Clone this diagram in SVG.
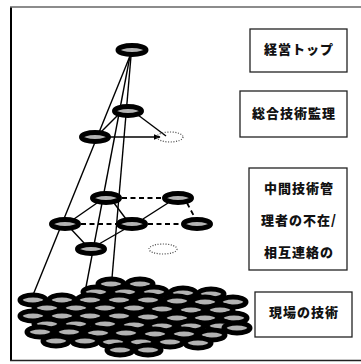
<svg xmlns="http://www.w3.org/2000/svg" width="361" height="364" viewBox="0 0 361 364">
<defs>
<style>
.box{fill:#fff;stroke:#222;stroke-width:1.3}
.lbl{font-family:"Noto Sans CJK JP","Noto Sans CJK SC",sans-serif;font-weight:900;font-size:13px;letter-spacing:1px;fill:#111;text-anchor:middle}
.nd{fill:#b3b3b3;stroke:#000;stroke-width:5}
.fl{fill:#b3b3b3;stroke:#000;stroke-width:5}
.dot{fill:none;stroke:#444;stroke-width:1.2;stroke-dasharray:1 1.6}
.ln{stroke:#000;stroke-width:1.4;fill:none}
.ds{stroke:#000;stroke-width:1.8;fill:none;stroke-dasharray:5 3.5}
</style>
<marker id="ah" viewBox="0 0 10 10" refX="9" refY="5" markerWidth="7" markerHeight="7" orient="auto" markerUnits="userSpaceOnUse">
<path d="M0,1 L10,5 L0,9 z" fill="#000"/>
</marker>
</defs>
<rect width="361" height="364" fill="#fff"/>
<g id="frame">
<line x1="11" y1="7" x2="11" y2="361" stroke="#000" stroke-width="2"/>
<line x1="10" y1="7" x2="361" y2="7" stroke="#666" stroke-width="1.4"/>
<line x1="10" y1="360.5" x2="361" y2="360.5" stroke="#222" stroke-width="1.5"/>
</g>
<g id="connectors">
<line class="ln" x1="130" y1="56" x2="31" y2="300"/>
<line class="ln" x1="130" y1="56" x2="86" y2="287"/>
<line class="ln" x1="131" y1="56" x2="112" y2="278"/>
<line class="ln" x1="138" y1="115" x2="166" y2="136"/>
<line class="ln" x1="118" y1="115" x2="100" y2="133"/>
<line class="ln" x1="110" y1="137" x2="160" y2="137" marker-end="url(#ah)"/>
<line class="ds" x1="122" y1="198" x2="162" y2="198"/>
<line class="ds" x1="81" y1="224" x2="116" y2="224"/>
<line class="ds" x1="148" y1="224" x2="181" y2="224"/>
<line class="ds" x1="187" y1="203" x2="195" y2="218"/>
<line class="ln" x1="97" y1="203" x2="74" y2="219"/>
<line class="ln" x1="114" y1="203" x2="126" y2="219"/>
<line class="ln" x1="168" y1="203" x2="143" y2="219"/>
<line class="ln" x1="71" y1="229" x2="85" y2="244"/>
<line class="ln" x1="125" y1="229" x2="99" y2="244"/>
</g>
<g id="node-top"><ellipse class="nd" cx="132" cy="50" rx="14" ry="4.5"/></g>
<g id="node-n2"><ellipse class="nd" cx="128" cy="111" rx="13.5" ry="4.5"/></g>
<g id="node-n3"><ellipse class="nd" cx="95" cy="137" rx="13.5" ry="4.5"/></g>
<g id="node-d1"><ellipse class="dot" cx="170" cy="137" rx="13" ry="5"/></g>
<g id="node-a"><ellipse class="nd" cx="106" cy="198" rx="13.5" ry="4.5"/></g>
<g id="node-b"><ellipse class="nd" cx="178" cy="198" rx="13.5" ry="4.5"/></g>
<g id="node-c"><ellipse class="nd" cx="65" cy="224" rx="13.5" ry="4.5"/></g>
<g id="node-d"><ellipse class="nd" cx="132" cy="224" rx="13.5" ry="4.5"/></g>
<g id="node-e"><ellipse class="nd" cx="197" cy="224" rx="13.5" ry="4.5"/></g>
<g id="node-f"><ellipse class="nd" cx="91" cy="249" rx="13.5" ry="4.5"/></g>
<g id="node-d2"><ellipse class="dot" cx="163" cy="249" rx="14" ry="5"/></g>
<g id="node-floor">
<ellipse class="fl" cx="111" cy="284" rx="13" ry="5"/>
<ellipse class="fl" cx="140" cy="284" rx="13" ry="5"/>
<ellipse class="fl" cx="96" cy="292" rx="13" ry="5"/>
<ellipse class="fl" cx="125" cy="292" rx="13" ry="5"/>
<ellipse class="fl" cx="154" cy="292" rx="13" ry="5"/>
<ellipse class="fl" cx="183" cy="293" rx="13" ry="5"/>
<ellipse class="fl" cx="211" cy="294" rx="13" ry="5"/>
<ellipse class="fl" cx="33" cy="300" rx="13" ry="5"/>
<ellipse class="fl" cx="62" cy="300" rx="13" ry="5"/>
<ellipse class="fl" cx="90" cy="300" rx="13" ry="5"/>
<ellipse class="fl" cx="119" cy="300" rx="13" ry="5"/>
<ellipse class="fl" cx="148" cy="300" rx="13" ry="5"/>
<ellipse class="fl" cx="177" cy="301" rx="13" ry="5"/>
<ellipse class="fl" cx="205" cy="302" rx="13" ry="5"/>
<ellipse class="fl" cx="233" cy="302" rx="13" ry="5"/>
<ellipse class="fl" cx="47" cy="308" rx="13" ry="5"/>
<ellipse class="fl" cx="76" cy="308" rx="13" ry="5"/>
<ellipse class="fl" cx="105" cy="308" rx="13" ry="5"/>
<ellipse class="fl" cx="134" cy="308" rx="13" ry="5"/>
<ellipse class="fl" cx="162" cy="309" rx="13" ry="5"/>
<ellipse class="fl" cx="191" cy="310" rx="13" ry="5"/>
<ellipse class="fl" cx="220" cy="310" rx="13" ry="5"/>
<ellipse class="fl" cx="33" cy="316" rx="13" ry="5"/>
<ellipse class="fl" cx="62" cy="316" rx="13" ry="5"/>
<ellipse class="fl" cx="90" cy="316" rx="13" ry="5"/>
<ellipse class="fl" cx="119" cy="316" rx="13" ry="5"/>
<ellipse class="fl" cx="148" cy="317" rx="13" ry="5"/>
<ellipse class="fl" cx="177" cy="318" rx="13" ry="5"/>
<ellipse class="fl" cx="205" cy="318" rx="13" ry="5"/>
<ellipse class="fl" cx="234" cy="318" rx="13" ry="5"/>
<ellipse class="fl" cx="47" cy="324" rx="13" ry="5"/>
<ellipse class="fl" cx="76" cy="324" rx="13" ry="5"/>
<ellipse class="fl" cx="105" cy="324" rx="13" ry="5"/>
<ellipse class="fl" cx="134" cy="325" rx="13" ry="5"/>
<ellipse class="fl" cx="162" cy="326" rx="13" ry="5"/>
<ellipse class="fl" cx="191" cy="326" rx="13" ry="5"/>
<ellipse class="fl" cx="220" cy="326" rx="13" ry="5"/>
<ellipse class="fl" cx="237" cy="328" rx="13" ry="5"/>
<ellipse class="fl" cx="40" cy="332" rx="13" ry="5"/>
<ellipse class="fl" cx="69" cy="332" rx="13" ry="5"/>
<ellipse class="fl" cx="98" cy="333" rx="13" ry="5"/>
<ellipse class="fl" cx="126" cy="333" rx="13" ry="5"/>
<ellipse class="fl" cx="155" cy="334" rx="13" ry="5"/>
<ellipse class="fl" cx="184" cy="334" rx="13" ry="5"/>
<ellipse class="fl" cx="212" cy="335" rx="13" ry="5"/>
<ellipse class="fl" cx="56" cy="341" rx="13" ry="5"/>
<ellipse class="fl" cx="85" cy="341" rx="13" ry="5"/>
<ellipse class="fl" cx="113" cy="342" rx="13" ry="5"/>
<ellipse class="fl" cx="141" cy="342" rx="13" ry="5"/>
<ellipse class="fl" cx="170" cy="342" rx="13" ry="5"/>
<ellipse class="fl" cx="198" cy="343" rx="13" ry="5"/>
<ellipse class="fl" cx="120" cy="350" rx="13" ry="5"/>
<ellipse class="fl" cx="148" cy="350" rx="13" ry="5"/>
</g>
<g id="box-top">
<rect class="box" x="250" y="29" width="97" height="43"/>
<text class="lbl" x="299" y="54">経営トップ</text>
</g>
<g id="box-general">
<rect class="box" x="240" y="91" width="107" height="46"/>
<text class="lbl" x="294" y="117.5">総合技術監理</text>
</g>
<g id="box-middle">
<rect class="box" x="249" y="168" width="98" height="102"/>
<text class="lbl" x="299" y="193">中間技術管</text>
<text class="lbl" x="299" y="225">理者の不在/</text>
<text class="lbl" x="299" y="257">相互連絡の</text>
</g>
<g id="box-field">
<rect class="box" x="255" y="292" width="97" height="45"/>
<text class="lbl" x="304" y="317">現場の技術</text>
</g>
</svg>
